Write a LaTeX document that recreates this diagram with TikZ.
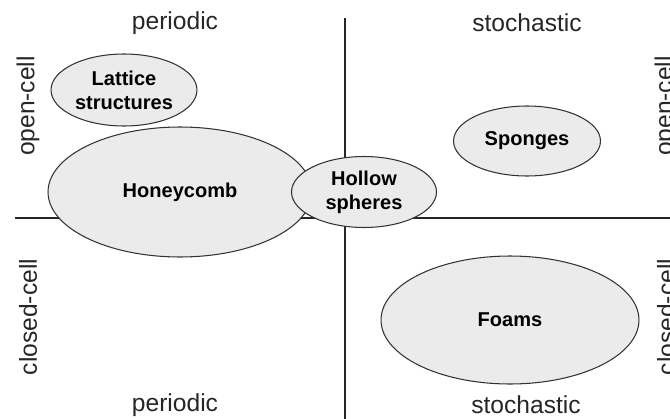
\documentclass[tikz,border=0pt]{standalone}
\usepackage{fontspec}
\setmainfont{Liberation Sans}
\usetikzlibrary{shapes.geometric}

\begin{document}
\begin{tikzpicture}[x=0.02cm, y=-0.02cm,
    cellform/.style={ellipse, draw=black!80, line width=0.6pt, fill=black!8, inner sep=0pt, align=center, font=\fontsize{11.4}{13.5}\selectfont\bfseries},
    axislabel/.style={font=\fontsize{14}{16}\selectfont, text=black!85},
    axisline/.style={line width=1.1pt, black!85}]
  \useasboundingbox (0,0) rectangle (670,419);

  % axes
  \coordinate (TopEnd) at (345,18);
  \coordinate (BottomEnd) at (345,419);
  \coordinate (LeftEnd) at (15,218);
  \coordinate (RightEnd) at (670,218);
  \draw [axisline] (TopEnd) -- (BottomEnd);
  \draw [axisline] (LeftEnd) -- (RightEnd);

  % labels round the quadrants
  \node [axislabel] (PeriodicTop) at (175,23) {periodic};
  \node [axislabel] (StochasticTop) at (527,23) {stochastic};
  \node [axislabel] (PeriodicBottom) at (175,405) {periodic};
  \node [axislabel] (StochasticBottom) at (526,405) {stochastic};
  \node [axislabel, rotate=90] (OpenLeft) at (28,106) {open-cell};
  \node [axislabel, rotate=90] (ClosedLeft) at (28,317) {closed-cell};
  \node [axislabel, rotate=90] (OpenRight) at (666,106) {open-cell};
  \node [axislabel, rotate=90] (ClosedRight) at (666,317) {closed-cell};

  % cellular structures
  \node [cellform, minimum width=2.92cm, minimum height=1.44cm] (Lattice) at (124,90) {Lattice\\structures};
  \node [cellform, minimum width=5.28cm, minimum height=2.6cm] (Honeycomb) at (180,192) {Honeycomb};
  \node [cellform, minimum width=2.9cm, minimum height=1.42cm] (Hollow) at (364,192) {Hollow\\spheres};
  \node [cellform, minimum width=2.94cm, minimum height=1.4cm] (Sponges) at (527,141) {Sponges};
  \node [cellform, minimum width=5.16cm, minimum height=2.56cm] (Foams) at (510,320) {Foams};

\end{tikzpicture}
\end{document}
